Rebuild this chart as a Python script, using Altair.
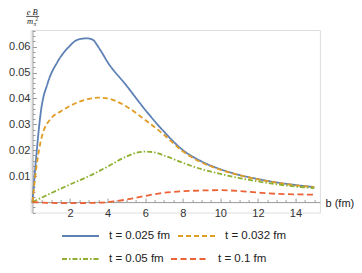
import altair as alt
import pandas as pd

# ---- data ----
series_names = ["t = 0.025 fm", "t = 0.032 fm", "t = 0.05 fm", "t = 0.1 fm"]
series_colors = ["#5E81B5", "#E19C24", "#8FB032", "#EB6235"]
series_dash = [[1, 0], [5, 3], [5, 2, 1.5, 2], [6, 3.5]]

b_blue = [0, 0.1, 0.2, 0.46, 0.81, 1.34, 1.95, 2.39, 2.9, 3.17, 3.6, 4, 5, 6, 7, 8, 9, 10, 11, 12, 13, 14, 15]
v_blue = [0, 0.009, 0.0176, 0.0356, 0.0459, 0.0542, 0.0600, 0.0626, 0.0632, 0.0628, 0.0588, 0.0540,
          0.0450, 0.0356, 0.0272, 0.0201, 0.0157, 0.0127, 0.0105, 0.0089, 0.0076, 0.0066, 0.0058]

b_orange = [0, 0.2, 0.5, 1, 1.5, 2, 2.5, 3, 3.5, 4, 4.5, 5, 6, 7, 8, 9, 10, 11, 12, 13, 14, 15]
v_orange = [0, 0.013, 0.0253, 0.0324, 0.035, 0.0371, 0.0388, 0.0398, 0.0403, 0.0400, 0.0388, 0.0369,
            0.0317, 0.026, 0.0196, 0.0153, 0.0125, 0.0104, 0.0088, 0.0075, 0.0065, 0.0058]

b_green = [0, 1, 2, 3, 4, 5, 5.5, 6, 6.5, 7, 8, 9, 10, 11, 12, 13, 14, 15]
v_green = [0, 0.0035, 0.0068, 0.0100, 0.0137, 0.0176, 0.0190, 0.0195, 0.0192, 0.0180, 0.0152,
           0.0127, 0.0109, 0.0093, 0.0080, 0.0069, 0.0060, 0.0054]

b_red = [0, 1, 2, 3, 4, 4.5, 5, 6, 7, 8, 9, 10, 11, 12, 13, 14, 15]
v_red = [0, -0.0003, -0.0004, -0.0003, 0, 0.0004, 0.001, 0.0024, 0.0036, 0.0042, 0.0045, 0.0046,
         0.0043, 0.0037, 0.0032, 0.0030, 0.0029]

x_labels = [2, 4, 6, 8, 10, 12, 14]
y_labels = [0.01, 0.02, 0.03, 0.04, 0.05, 0.06]
x_ticks = [i * 0.5 for i in range(0, 31)]
y_ticks = [round(-0.004 + i * 0.002, 3) for i in range(0, 36)]


def frame(names, bss, vss):
    rows = []
    for name, bs, vs in zip(names, bss, vss):
        for b, v in zip(bs, vs):
            rows.append({"b": b, "eB": v, "series": name})
    return pd.DataFrame(rows)


df1 = frame(series_names[:2], [b_blue, b_orange], [v_blue, v_orange])
df2 = frame(series_names[2:], [b_green, b_red], [v_green, v_red])
df_all = pd.concat([df1, df2])

# ---- layout ----
W = 289.3
H = 182.5
X_DOM = [-0.1, 15.3]
Y_DOM = [-0.004, 0.0664]
ZERO_FROM_BOTTOM = 10.4
ZERO_FROM_TOP = H - ZERO_FROM_BOTTOM
ZERO_FROM_LEFT = 1.88

AX_COLOR = "#9a9a9a"
TXT_COLOR = "#333333"
FONT = "Liberation Sans"

xs = alt.Scale(domain=X_DOM, nice=False, zero=False)
ys = alt.Scale(domain=Y_DOM, nice=False, zero=False)


def make_legend(ly):
    return alt.Legend(
        title=None, orient="none", legendX=30.4, legendY=ly, direction="horizontal",
        columns=2, gridAlign="none",
        symbolType="stroke", symbolSize=1369, symbolStrokeWidth=1.8, labelFontSize=11.5,
        labelFont=FONT, labelColor="#222222", labelOffset=9, columnPadding=3, padding=0,
    )


def line_layer(d, names, colors, dashes, ly, with_axes):
    if with_axes:
        xax = alt.Axis(
            orient="bottom", offset=-ZERO_FROM_BOTTOM, values=x_labels, ticks=False, grid=False,
            domainColor=AX_COLOR, domainWidth=1, labelFontSize=11, labelFont=FONT,
            labelColor=TXT_COLOR, labelPadding=5, title="b (fm)", titleFont=FONT,
            titleFontSize=11, titleFontWeight="normal", titleColor="#222222",
            titleX=294.4, titleY=1.5, titleAlign="left", titleBaseline="middle", titleAngle=0)
        yax = alt.Axis(
            orient="left", offset=-ZERO_FROM_LEFT, values=y_labels, ticks=False, grid=False,
            format=".2f", domainColor=AX_COLOR, domainWidth=1, labelFontSize=11, labelFont=FONT,
            labelColor=TXT_COLOR, labelPadding=2.5, title=None)
    else:
        xax = None
        yax = None
    lg = make_legend(ly)
    return alt.Chart(d).mark_line(strokeWidth=1.8, interpolate="monotone", clip=False).encode(
        x=alt.X("b:Q", scale=xs, axis=xax),
        y=alt.Y("eB:Q", scale=ys, axis=yax),
        color=alt.Color("series:N", scale=alt.Scale(domain=names, range=colors),
                        sort=names, legend=lg),
        strokeDash=alt.StrokeDash("series:N", scale=alt.Scale(domain=names, range=dashes),
                                  sort=names, legend=lg),
        detail="series:N",
    )


lines1 = line_layer(df1, series_names[:2], series_colors[:2], series_dash[:2], 186.5, True)
lines2 = line_layer(df2, series_names[2:], series_colors[2:], series_dash[2:], 209.5, False)

ticks_layer = alt.Chart(df_all).mark_point(opacity=0).encode(
    x=alt.X("b:Q", scale=xs, axis=alt.Axis(
        orient="top", offset=-ZERO_FROM_TOP, values=x_ticks, labels=False, domain=False,
        grid=False, tickColor=AX_COLOR, tickWidth=1,
        tickSize={"condition": {"test": "round(datum.value*2) % 4 === 0", "value": 4}, "value": 2.5},
        title=None)),
    y=alt.Y("eB:Q", scale=ys, axis=alt.Axis(
        orient="right", offset=-(W - ZERO_FROM_LEFT), values=y_ticks, labels=False, domain=False,
        grid=False, tickColor=AX_COLOR, tickWidth=1,
        tickSize={"condition": {"test": "round(datum.value*500) % 5 === 0", "value": 4}, "value": 2.5},
        title=None)),
)

# y-axis title as a fraction  e B / m_pi^2
TX = -2.5
TY = 2.0
t_eb = alt.Chart(pd.DataFrame({"t": ["e B"]})).mark_text(
    font="Liberation Serif", fontStyle="italic", fontSize=8.5, color="#222222",
    align="center", baseline="alphabetic").encode(
    text="t:N", x=alt.value(4.1 + TX), y=alt.value(-17 + TY))
t_bar = alt.Chart(pd.DataFrame({"t": [1]})).mark_rule(color="#222222", strokeWidth=0.8).encode(
    x=alt.value(-1.9 + TX), x2=alt.value(11.1 + TX), y=alt.value(-15.6 + TY))
t_m = alt.Chart(pd.DataFrame({"t": ["m"]})).mark_text(
    font="Liberation Serif", fontStyle="italic", fontSize=8.5, color="#222222",
    align="left", baseline="alphabetic").encode(
    text="t:N", x=alt.value(-1.2 + TX), y=alt.value(-8.5 + TY))
t_pi = alt.Chart(pd.DataFrame({"t": ["π"]})).mark_text(
    font="Liberation Serif", fontStyle="italic", fontSize=5.5, color="#222222",
    align="left", baseline="alphabetic").encode(
    text="t:N", x=alt.value(5.3 + TX), y=alt.value(-6.5 + TY))
t_2 = alt.Chart(pd.DataFrame({"t": ["2"]})).mark_text(
    font="Liberation Serif", fontSize=5.5, color="#222222",
    align="left", baseline="alphabetic").encode(
    text="t:N", x=alt.value(7.2 + TX), y=alt.value(-10.8 + TY))

chart = alt.layer(lines1, lines2, ticks_layer, t_eb, t_bar, t_m, t_pi, t_2).resolve_axis(
    x="independent", y="independent"
).resolve_scale(
    x="shared", y="shared", color="independent", strokeDash="independent"
).resolve_legend(color="independent", strokeDash="independent").properties(
    width=W, height=H,
    autosize=alt.AutoSizeParams(type="none"),
    padding={"left": 22.6, "top": 22, "right": 34.1, "bottom": 52.5},
).configure_view(stroke=None).configure(background="white")

chart.save("out.html", embed_options={"renderer": "svg", "actions": False})
